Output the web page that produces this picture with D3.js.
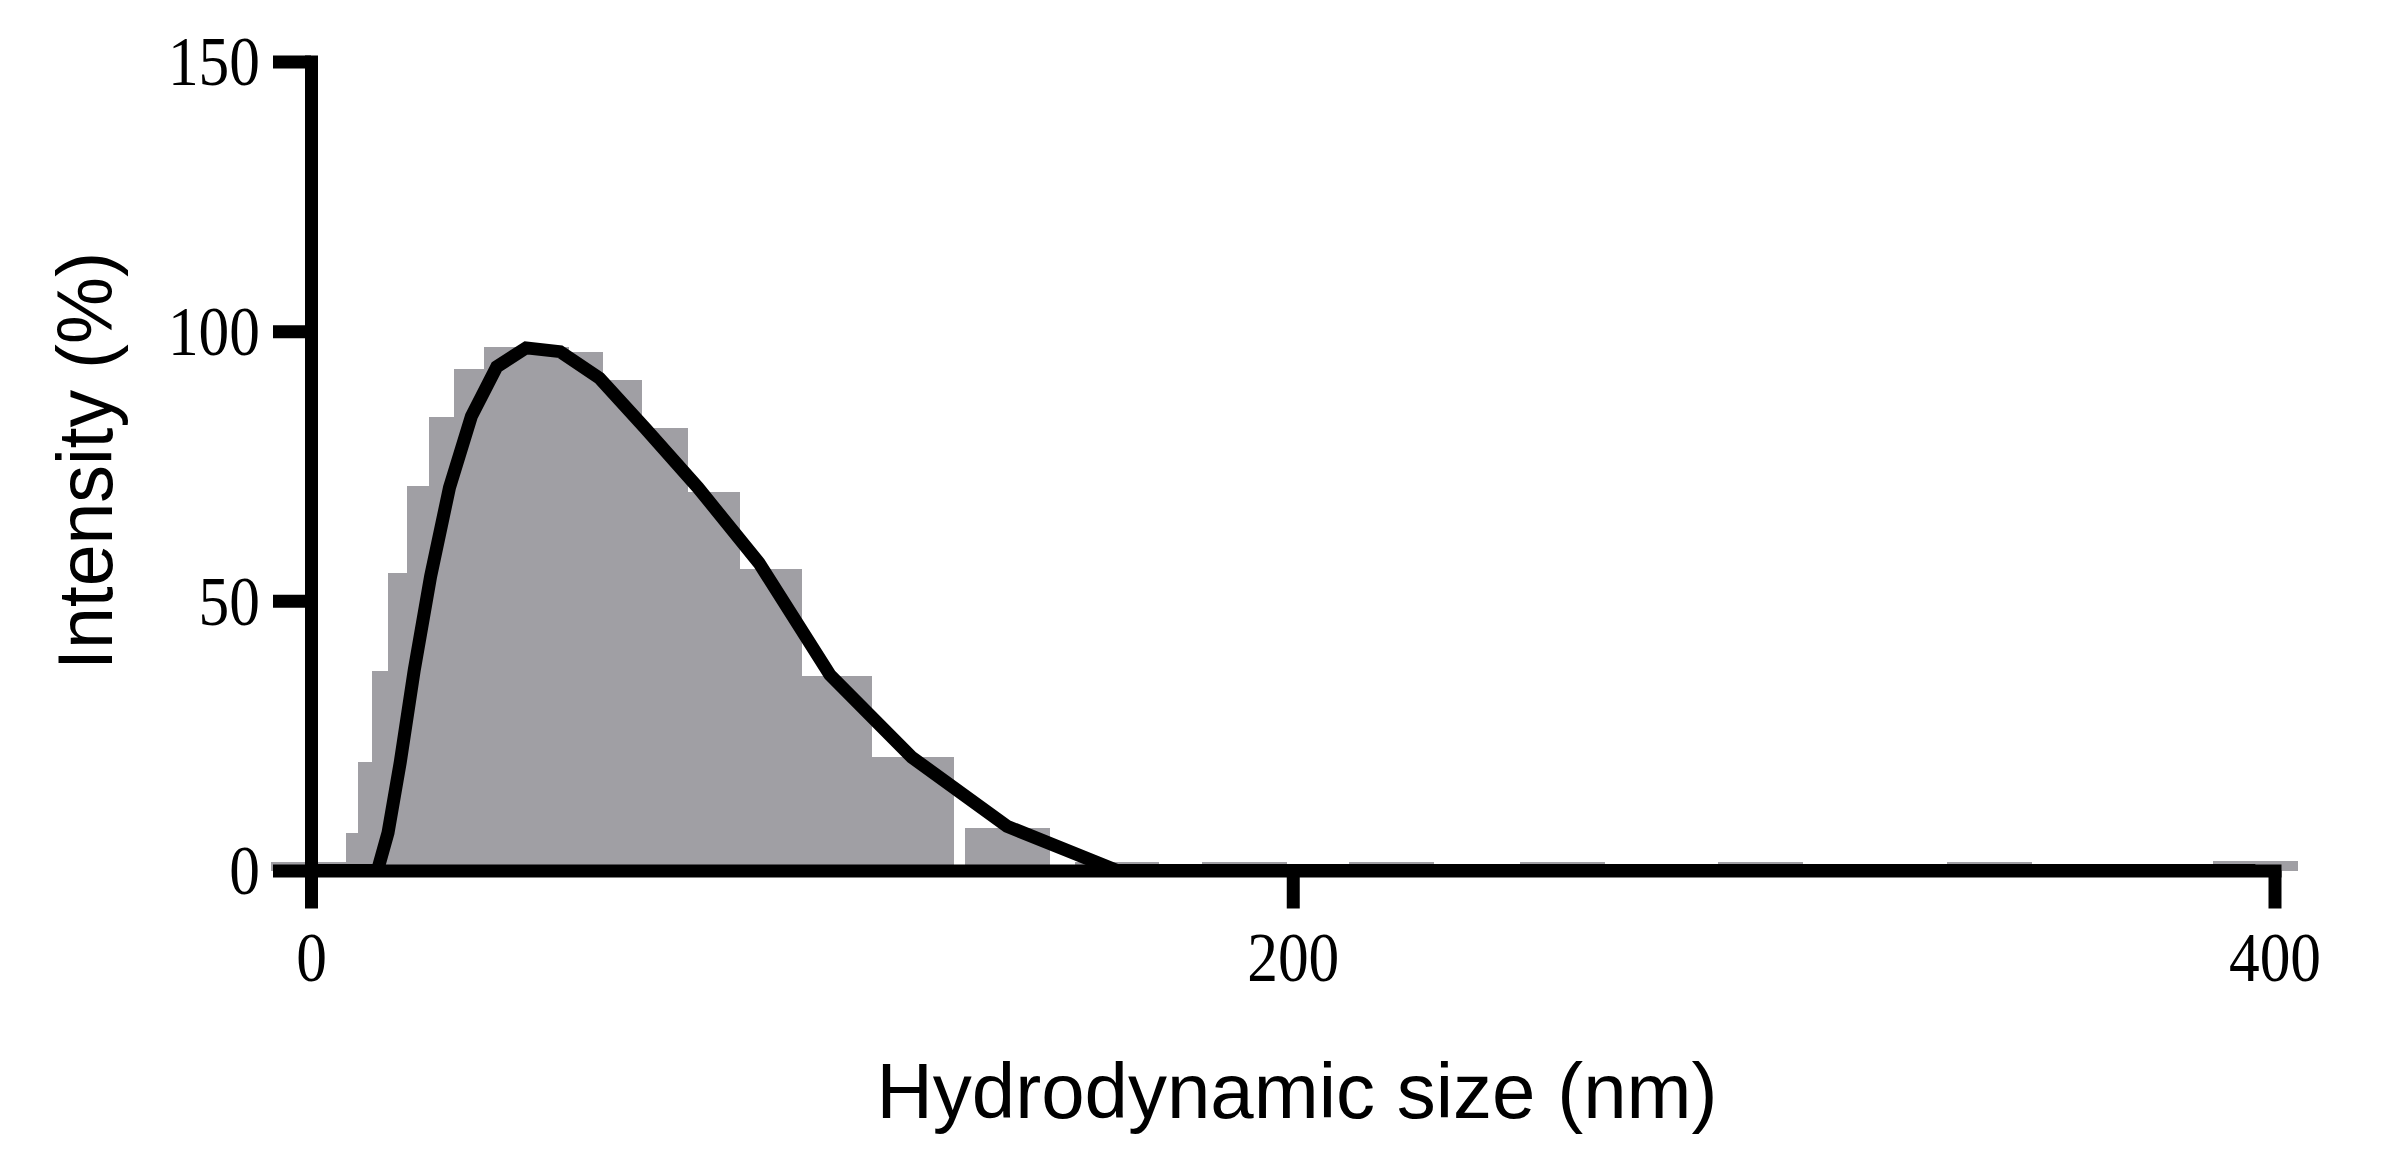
<!DOCTYPE html>
<html>
<head>
<meta charset="utf-8">
<script src="https://cdn.jsdelivr.net/npm/d3@7"></script>
<style>
  body { margin: 0; background: #fff; }
</style>
</head>
<body>
<script>

// size classes of the instrument (nm), one bar per class
const sizeBins = [0.4, 0.4632, 0.5365, 0.6213, 0.7195, 0.8332, 0.9649, 1.117, 1.294, 1.499,
  1.736, 2.01, 2.328, 2.696, 3.122, 3.615, 4.187, 4.849, 5.615, 6.503,
  7.531, 8.721, 10.1, 11.7, 13.54, 15.69, 18.17, 21.04, 24.36, 28.21,
  32.67, 37.84, 43.82, 50.75, 58.77, 68.06, 78.82, 91.28, 105.7, 122.4,
  141.8, 164.2, 190.1, 220.2, 255.0, 295.3, 342.0, 396.1];

// bar heights (%)
const barIntensity = [1.6, 1.6, 1.6, 1.6, 1.6, 1.6, 1.6, 1.6, 1.6, 1.6,
  1.6, 1.6, 1.6, 1.6, 1.6, 1.6, 1.6, 1.6, 1.6, 1.6,
  1.6, 1.6, 1.6, 1.6, 1.6, 7.0, 20.1, 37.0, 55.2, 71.2,
  84.1, 93.0, 97.0, 96.1, 91.0, 82.1, 70.1, 55.9, 36.1, 21.1,
  7.9, 1.6, 1.6, 1.6, 1.6, 1.6, 1.6, 1.7];

// curve (%)
const lineIntensity = [0, 0, 0, 0, 0, 0, 0, 0, 0, 0,
  0, 0, 0, 0, 0, 0, 0, 0, 0, 0,
  0, 0, 0, 0, 0, 7.0, 20.0, 37.2, 54.5, 71.0,
  84.2, 93.4, 96.9, 96.2, 91.3, 82.0, 71.0, 57.0, 36.3, 21.0,
  8.2, 0, 0, 0, 0, 0, 0, 0];

const xTicks = [0, 200, 400];
const yTicks = [0, 50, 100, 150];

const WIDTH = 2384;
const HEIGHT = 1168;

const svg = d3.select('body')
  .append('svg')
  .attr('width', WIDTH)
  .attr('height', HEIGHT);

const x = d3.scaleLinear().domain([0, 400]).range([311, 2274.5]);
const y = d3.scaleLinear().domain([0, 150]).range([870.5, 61.5]);

// every bar has the same width on the axis, so neighbours overlap
const barW = x(17.3) - x(0);

svg.append('g')
  .selectAll('rect')
  .data(sizeBins)
  .enter()
  .append('rect')
  .attr('x', d => x(d) - barW / 2)
  .attr('y', (d, i) => y(barIntensity[i]))
  .attr('width', barW)
  .attr('height', (d, i) => y(0) - y(barIntensity[i]))
  .attr('fill', '#a09fa4')
  .attr('shape-rendering', 'crispEdges');

const line = d3.line()
  .x(d => x(d[0]))
  .y(d => y(d[1]));

svg.append('path')
  .datum(d3.zip(sizeBins, lineIntensity))
  .attr('d', line)
  .attr('fill', 'none')
  .attr('stroke', '#000')
  .attr('stroke-width', 13)
  .attr('stroke-linejoin', 'miter');

// ejes
const xAxis = d3.axisBottom(x).tickValues(xTicks).tickSize(38).tickSizeOuter(0);
const yAxis = d3.axisLeft(y).tickValues(yTicks).tickSize(38).tickSizeOuter(0);

const gx = svg.append('g')
  .attr('transform', `translate(0, ${y(0)})`)
  .call(xAxis);

const gy = svg.append('g')
  .attr('transform', `translate(${x(0)}, 0)`)
  .call(yAxis);

[gx, gy].forEach(g => {
  g.select('.domain')
    .attr('stroke', '#000')
    .attr('stroke-width', 13)
    .attr('stroke-linecap', 'square');
  g.selectAll('.tick line')
    .attr('stroke', '#000')
    .attr('stroke-width', 13);
  g.selectAll('.tick text')
    .attr('fill', '#000')
    .style('font-family', '"Liberation Serif", "Times New Roman", serif')
    .style('font-size', '69px')
    .attr('textLength', d => String(d).length * 30.7)
    .attr('lengthAdjust', 'spacingAndGlyphs');
});

gx.selectAll('.tick text')
  .attr('y', 981 - y(0))
  .attr('dy', 0);

gy.selectAll('.tick text')
  .attr('x', 260 - x(0))
  .attr('dy', '0.34em');

svg.append('text')
  .attr('x', 1297)
  .attr('y', 1118)
  .attr('text-anchor', 'middle')
  .style('font-family', '"Liberation Sans", Arial, sans-serif')
  .style('font-size', '78px')
  .attr('textLength', 841)
  .attr('lengthAdjust', 'spacingAndGlyphs')
  .text('Hydrodynamic size (nm)');

svg.append('text')
  .attr('transform', 'translate(112, 461) rotate(-90)')
  .attr('text-anchor', 'middle')
  .style('font-family', '"Liberation Sans", Arial, sans-serif')
  .style('font-size', '78px')
  .attr('textLength', 418)
  .attr('lengthAdjust', 'spacingAndGlyphs')
  .text('Intensity (%)');

</script>
</body>
</html>
